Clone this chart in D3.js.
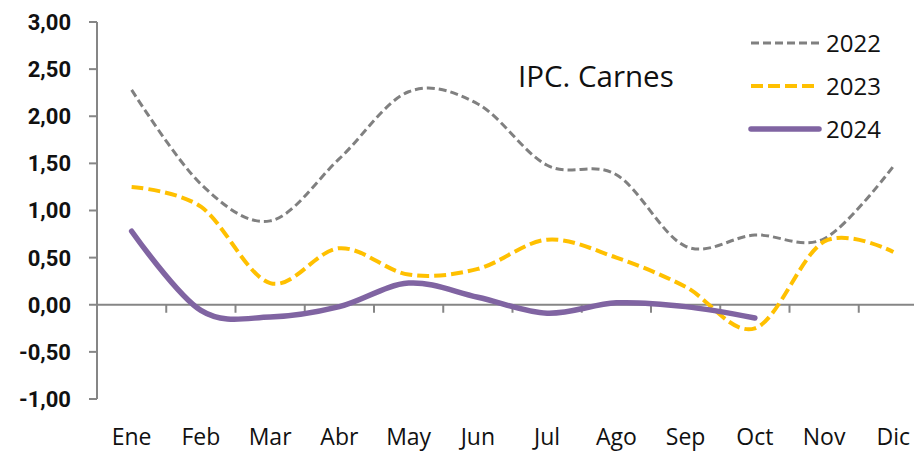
<!DOCTYPE html>
<html>
<head>
<meta charset="utf-8">
<script src="https://cdn.jsdelivr.net/npm/d3@7"></script>
<style>
  body { margin: 0; background: #fff; }
  svg { display: block; }
</style>
</head>
<body>
<div id="container"></div>
<script>
// data
var months = ['Ene', 'Feb', 'Mar', 'Abr', 'May', 'Jun', 'Jul', 'Ago', 'Sep', 'Oct', 'Nov', 'Dic']
var y2022 = [2.28, 1.28, 0.89, 1.55, 2.26, 2.13, 1.48, 1.38, 0.62, 0.74, 0.70, 1.47]
var y2023 = [1.25, 1.04, 0.23, 0.60, 0.32, 0.38, 0.69, 0.50, 0.19, -0.25, 0.67, 0.56]
var y2024 = [0.78, -0.06, -0.13, -0.02, 0.23, 0.08, -0.09, 0.02, -0.02, -0.14]
var yTicks = [-1, -0.5, 0, 0.5, 1, 1.5, 2, 2.5, 3]
var seriesNames = ['2022', '2023', '2024']

var width = 914,
    height = 453

var svg = d3
    .select('#container')
    .append('svg')
    .attr('width', width)
    .attr('height', height)

var x = d3.scaleBand().domain(months).range([97, 928])
var y = d3.scaleLinear().domain([-1, 3]).range([399, 22])

var axisColor = '#868686'
var fmt = function(d) {
    return d3.format('.2f')(d).replace('.', ',').replace('−', '-')
}

// y axis
svg.append('line')
    .attr('x1', 97).attr('x2', 97)
    .attr('y1', y(3)).attr('y2', y(-1))
    .style('stroke', axisColor).style('stroke-width', 2)

svg.selectAll('.ytick')
    .data(yTicks)
    .enter()
    .append('line')
    .attr('x1', 89).attr('x2', 97)
    .attr('y1', function(d) { return y(d) })
    .attr('y2', function(d) { return y(d) })
    .style('stroke', axisColor).style('stroke-width', 2)

svg.selectAll('.ylabel')
    .data(yTicks)
    .enter()
    .append('text')
    .attr('x', 71)
    .attr('y', function(d) { return y(d) })
    .attr('dy', '.36em')
    .attr('text-anchor', 'end')
    .style('font-family', 'Roboto, sans-serif')
    .style('font-weight', 'bold')
    .style('font-size', '22px')
    .style('fill', '#111')
    .text(fmt)

// x axis at zero
svg.append('line')
    .attr('x1', 97).attr('x2', width)
    .attr('y1', y(0)).attr('y2', y(0))
    .style('stroke', axisColor).style('stroke-width', 2)

svg.selectAll('.xtick')
    .data(months.slice(1))
    .enter()
    .append('line')
    .attr('x1', function(d) { return x(d) })
    .attr('x2', function(d) { return x(d) })
    .attr('y1', y(0)).attr('y2', y(0) + 8)
    .style('stroke', axisColor).style('stroke-width', 2)

svg.selectAll('.xlabel')
    .data(months)
    .enter()
    .append('text')
    .attr('x', function(d) { return x(d) + x.bandwidth() / 2 })
    .attr('y', 445)
    .attr('text-anchor', 'middle')
    .style('font-family', '"Open Sans", sans-serif')
    .style('font-size', '23px')
    .style('fill', '#111')
    .text(function(d) { return d })

// lines
var line = d3.line()
    .x(function(d, i) { return x(months[i]) + x.bandwidth() / 2 })
    .y(function(d) { return y(d) })
    .curve(d3.curveCatmullRom.alpha(0))

var styles = [
    { color: '#808080', width: 3, dash: '8,4', cap: 'butt' },
    { color: '#FFC000', width: 4, dash: '12,5', cap: 'butt' },
    { color: '#8064A2', width: 5.5, dash: null, cap: 'round' }
]
var series = [y2022, y2023, y2024]

series.forEach(function(s, i) {
    svg.append('path')
        .datum(s)
        .attr('d', line)
        .style('fill', 'none')
        .style('stroke', styles[i].color)
        .style('stroke-width', styles[i].width)
        .style('stroke-dasharray', styles[i].dash)
        .style('stroke-linecap', styles[i].cap)
})

// title
svg.append('text')
    .attr('x', 518)
    .attr('y', 87)
    .style('font-family', '"Open Sans", sans-serif')
    .style('font-size', '29.5px')
    .style('fill', '#111')
    .text('IPC. Carnes')

// legend
var legendY = [43, 86, 129]
seriesNames.forEach(function(n, i) {
    svg.append('line')
        .attr('x1', 751).attr('x2', 819)
        .attr('y1', legendY[i]).attr('y2', legendY[i])
        .style('stroke', styles[i].color)
        .style('stroke-width', styles[i].width)
        .style('stroke-dasharray', styles[i].dash)
        .style('stroke-linecap', styles[i].cap)
    svg.append('text')
        .attr('x', 826)
        .attr('y', legendY[i] + 9)
        .style('font-family', '"Open Sans", sans-serif')
        .style('font-size', '24px')
        .style('fill', '#111')
        .text(n)
})
</script>
</body>
</html>
